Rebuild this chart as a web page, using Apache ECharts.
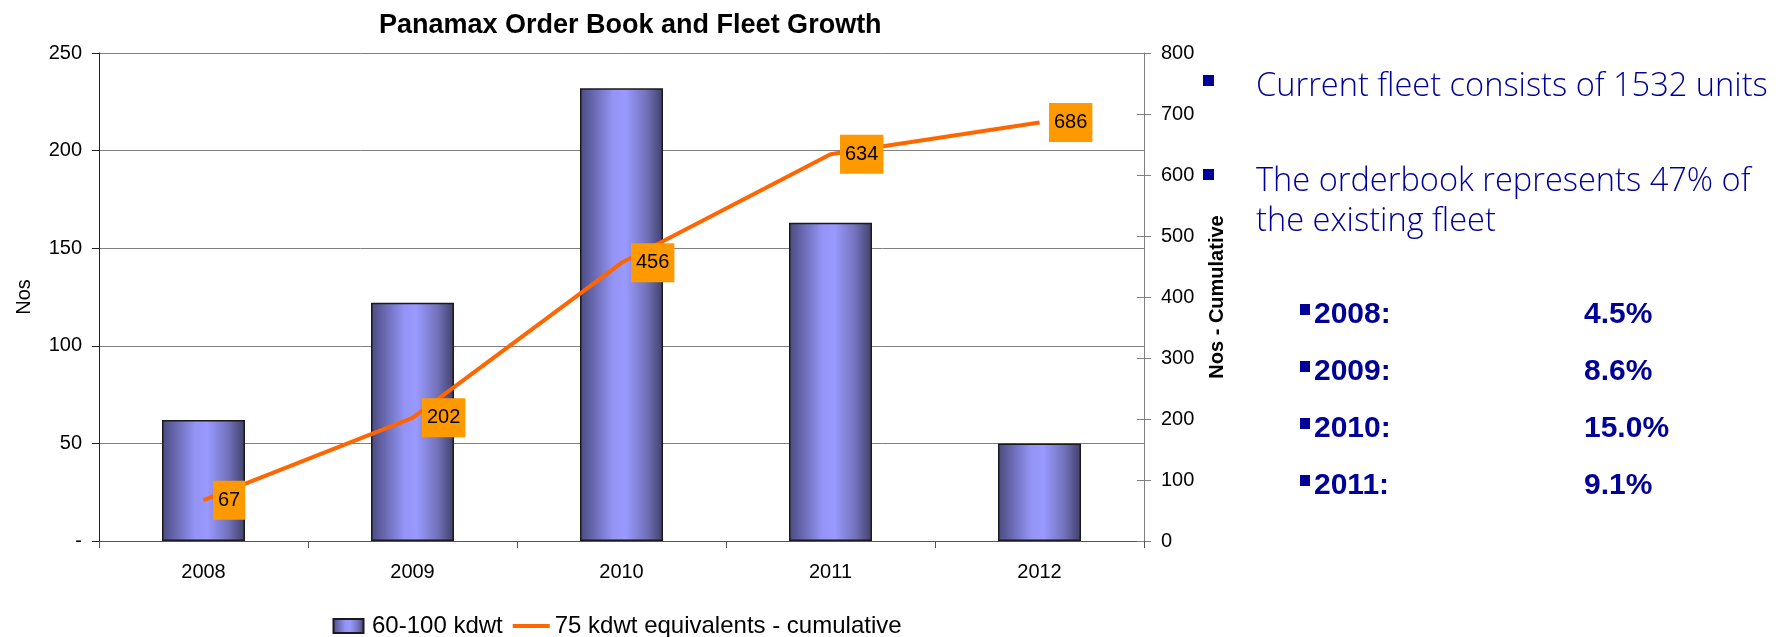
<!DOCTYPE html>
<html><head><meta charset="utf-8">
<script src="https://cdn.jsdelivr.net/npm/echarts@6/dist/echarts.min.js"></script>
<style>html,body{margin:0;padding:0;background:#fff}#chart{width:1786px;height:637px}</style>
</head><body><div id="chart"></div>
<script>
const categories = ['2008', '2009', '2010', '2011', '2012'];
const orderbookNos = [62, 122, 232, 163, 50];
const cumulativeNos = [67, 202, 456, 634, 686];
const seriesNames = ['60-100 kdwt', '75 kdwt equivalents - cumulative'];
const titleText = 'Panamax Order Book and Fleet Growth';
const leftAxisName = 'Nos';
const rightAxisName = 'Nos - Cumulative';
const noteLines = ['Current fleet consists of 1532 units', 'The orderbook represents 47% of', 'the existing fleet'];
const growthYears = ['2008:', '2009:', '2010:', '2011:'];
const growthShares = ['4.5%', '8.6%', '15.0%', '9.1%'];

const FONT = "'Liberation Sans', Arial, sans-serif";
const NOTE_FONT = "'Open Sans', 'Liberation Sans', sans-serif";
const BLUE = '#000099';

const chart = echarts.init(document.getElementById('chart'), null, {renderer: 'canvas'});

const barGradient = new echarts.graphic.LinearGradient(0, 0, 1, 0, [
  {offset: 0, color: '#4a4a80'},
  {offset: 0.4, color: '#9494f6'},
  {offset: 0.55, color: '#9999ff'},
  {offset: 0.8, color: '#7272ba'},
  {offset: 1, color: '#40406a'}
]);

// right-hand text panel
const graphics = [];
const noteMidY = [87, 182, 222];
noteLines.forEach((t, i) => {
  graphics.push({type: 'text', x: 1256, y: noteMidY[i], style: {text: t, font: '300 32.6px ' + NOTE_FONT, fill: BLUE, align: 'left', verticalAlign: 'middle'}});
});
graphics.push({type: 'rect', shape: {x: 1203, y: 75, width: 11, height: 11}, style: {fill: BLUE}});
graphics.push({type: 'rect', shape: {x: 1203, y: 169, width: 11, height: 11}, style: {fill: BLUE}});
const rowY = [315, 372, 429, 486];
growthYears.forEach((t, i) => {
  graphics.push({type: 'rect', shape: {x: 1300, y: rowY[i] - 11, width: 10, height: 11}, style: {fill: BLUE}});
  graphics.push({type: 'text', x: 1314, y: rowY[i], style: {text: t, font: 'bold 30px ' + FONT, fill: BLUE, align: 'left', verticalAlign: 'middle'}});
  graphics.push({type: 'text', x: 1584, y: rowY[i], style: {text: growthShares[i], font: 'bold 30px ' + FONT, fill: BLUE, align: 'left', verticalAlign: 'middle'}});
});

const option = {
  backgroundColor: '#fff',
  animation: false,
  title: {
    text: titleText, left: 374, top: 7,
    textStyle: {fontFamily: FONT, fontSize: 27, fontWeight: 'bold', color: '#000'}
  },
  legend: {
    left: 332.5, top: 614, padding: 0, itemWidth: 37, itemHeight: 14, itemGap: 10,
    textStyle: {fontFamily: FONT, fontSize: 24, color: '#000'},
    data: [
      {name: seriesNames[0], icon: 'path://M0,0L30,0L30,14L0,14Z'},
      {name: seriesNames[1], icon: 'path://M0,0L37,0L37,4L0,4Z'}
    ]
  },
  grid: {left: 99, right: 642, top: 53, bottom: 96, containLabel: false, outerBoundsMode: 'none'},
  xAxis: {
    type: 'category', data: categories, boundaryGap: true,
    axisLine: {lineStyle: {color: '#555', width: 1}},
    axisTick: {show: true, alignWithLabel: false, length: 7, lineStyle: {color: '#555'}},
    axisLabel: {fontFamily: FONT, fontSize: 20, color: '#000', margin: 21},
    splitLine: {show: false}
  },
  yAxis: [
    {
      type: 'value', min: 0, max: 250, interval: 50, position: 'left',
      name: leftAxisName, nameLocation: 'middle', nameGap: 65, nameRotate: 90,
      nameTextStyle: {fontFamily: FONT, fontSize: 20, color: '#000'},
      axisLine: {show: true, lineStyle: {color: '#222'}},
      axisTick: {show: true, length: 7, lineStyle: {color: '#222'}},
      axisLabel: {fontFamily: FONT, fontSize: 20, color: '#000', margin: 17, formatter: v => v === 0 ? '-' : String(v)},
      splitLine: {show: true, lineStyle: {color: '#808080', width: 1}}
    },
    {
      type: 'value', min: 0, max: 800, interval: 100, position: 'right',
      name: rightAxisName, nameLocation: 'middle', nameGap: 63, nameRotate: 90,
      nameTextStyle: {fontFamily: FONT, fontSize: 20, fontWeight: 'bold', color: '#000'},
      axisLine: {show: true, lineStyle: {color: '#808080'}},
      axisTick: {show: true, length: 7, lineStyle: {color: '#808080'}},
      axisLabel: {fontFamily: FONT, fontSize: 20, color: '#000', margin: 17},
      splitLine: {show: false}
    },
    {
      type: 'value', min: 0, max: 800, interval: 100, position: 'right',
      axisLine: {show: false},
      axisTick: {show: true, inside: true, length: 7, lineStyle: {color: '#808080'}},
      axisLabel: {show: false},
      splitLine: {show: false}
    }
  ],
  series: [
    {
      name: seriesNames[0], type: 'bar', yAxisIndex: 0, data: orderbookNos, barWidth: 83,
      itemStyle: {color: barGradient, borderColor: '#1a1a1a', borderWidth: 1.5}
    },
    {
      name: seriesNames[1], type: 'line', yAxisIndex: 1, data: cumulativeNos, z: 5,
      symbol: 'circle', symbolSize: 1, showSymbol: true,
      lineStyle: {color: '#FF6600', width: 4},
      itemStyle: {color: '#FF6600'},
      label: {
        show: true, position: 'right', distance: 9,
        backgroundColor: '#FF9900', padding: [10, 5, 9, 5],
        fontFamily: FONT, fontSize: 20, lineHeight: 20, color: '#000'
      }
    }
  ],
  graphic: graphics
};
chart.setOption(option);
</script>
</body></html>
